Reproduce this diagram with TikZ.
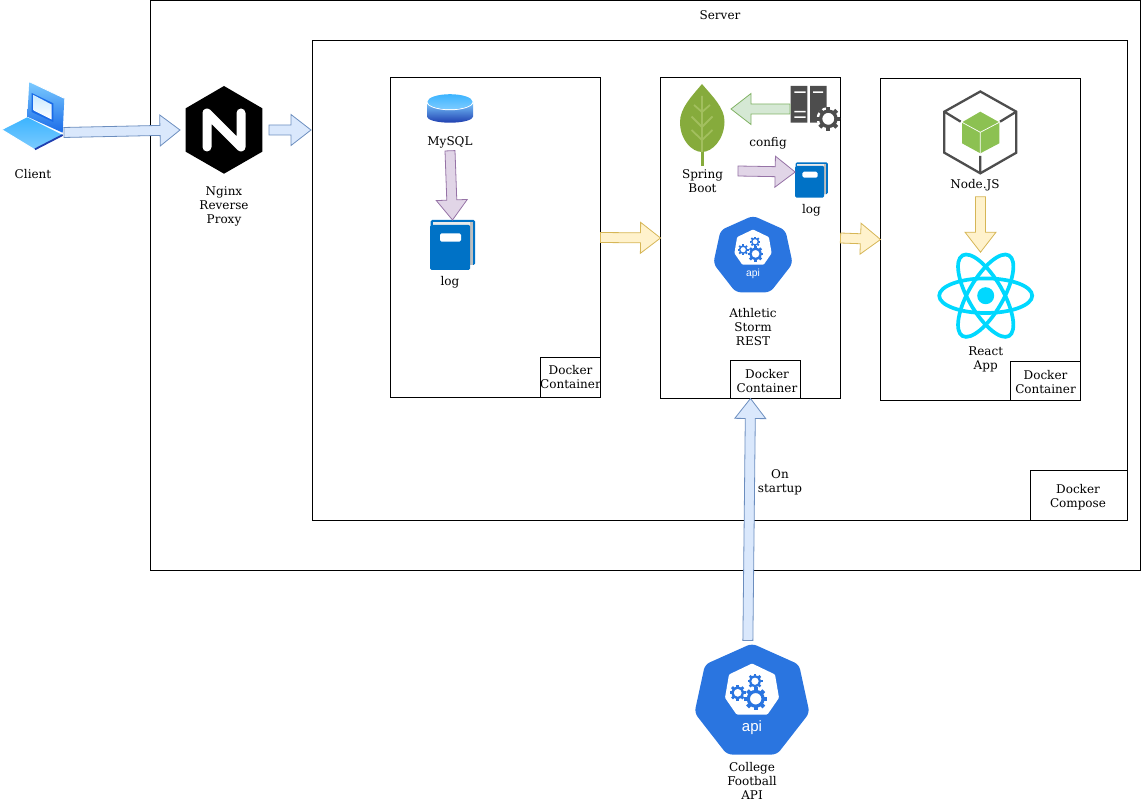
\documentclass[tikz,border=0pt]{standalone}
\usepackage{fontspec}
\setmainfont{DejaVu Serif}
\newfontfamily\apifont{Liberation Sans}
\usetikzlibrary{positioning, calc}

\definecolor{apiblue}{HTML}{2A75E0}
\definecolor{logblue}{HTML}{0072C6}
\definecolor{reactcyan}{HTML}{00D8FF}
\definecolor{darkgrey}{HTML}{4D4D4D}
\definecolor{leafgreen}{HTML}{86AB3C}
\definecolor{veingreen}{HTML}{A2BF5E}
\definecolor{cubegreen}{HTML}{8CC152}
\definecolor{skyblue}{HTML}{3CB4FF}
\definecolor{paleblue}{HTML}{7CCBFF}
\definecolor{deepblue}{HTML}{1F3FB0}
\definecolor{midblue}{HTML}{1A6BE8}

\tikzset{
  box/.style = {draw, outer sep=0pt, inner sep=0pt},
  tagbox/.style = {box, fill=white, anchor=south east},
  txt/.style = {align=center, inner sep=1pt, outer sep=2pt},
  iconbox/.style = {outer sep=0pt, inner sep=0pt},
  flowblue/.style = {fill={rgb,255:red,218;green,232;blue,252}, draw={rgb,255:red,108;green,142;blue,191}, line width=.8pt},
  flowyellow/.style = {fill={rgb,255:red,255;green,242;blue,204}, draw={rgb,255:red,214;green,182;blue,86}, line width=.8pt},
  flowpurple/.style = {fill={rgb,255:red,225;green,213;blue,231}, draw={rgb,255:red,150;green,115;blue,166}, line width=.8pt},
  flowgreen/.style = {fill={rgb,255:red,213;green,232;blue,212}, draw={rgb,255:red,130;green,179;blue,102}, line width=.8pt},
  pics/cog/.style = {code={
    \fill[even odd rule] (0,0) circle (.78) circle (.5);
    \foreach \a in {0,45,...,315} \fill[rotate=\a] (-.17,.7) rectangle (.17,1);
  }},
  pics/logbook/.style = {code={
    \fill[logblue, rounded corners=1.5pt] (-22,-25) rectangle (22.5,20);
    \fill[black!25] (-20,-22.5) rectangle (20,20);
    \fill[black!8] (-20,-22.5) rectangle (17.5,-20);
    \fill[logblue, rounded corners=1.5pt] (-22.5,-20) rectangle (17.5,25);
    \fill[white, rounded corners=1.5pt] (-12.5,-11.7) rectangle (8.5,-3.3);
  }},
  pics/apiicon/.style = {code={
    \fill[apiblue, rounded corners=5pt] (0,-55.5) -- (47,-34.5) -- (57.5,13.8) -- (25,55.5) -- (-25,55.5) -- (-57.5,13.8) -- (-47,-34.5) -- cycle;
    \fill[white, rounded corners=1pt] (0,-35.5) -- (23,-24.5) -- (27,-1.2) -- (15.5,15.5) -- (-15.5,15.5) -- (-27,-1.2) -- (-23,-24.5) -- cycle;
    \pic[color=apiblue, scale=8] at (-14.3,-6.2) {cog};
    \pic[color=apiblue, scale=7.5] at (3,-17.8) {cog};
    \pic[color=apiblue, scale=11.5] at (3.7,-.2) {cog};
    \node[text=white, inner sep=0pt, font=\apifont\fontsize{15}{15}\selectfont] (word) at (0,28.8) {api};
  }}
}

\newcommand{\flexarrow}[3]{
  \path #2 coordinate (fa) #3 coordinate (fb);
  \coordinate (fh) at ($(fb)!20pt!(fa)$);
  \draw[#1] ($(fa)!5pt!90:(fb)$) -- ($(fh)!5pt!-90:(fa)$) -- ($(fh)!15.5pt!-90:(fa)$) -- (fb)
    -- ($(fh)!15.5pt!90:(fa)$) -- ($(fh)!5pt!90:(fa)$) -- ($(fa)!5pt!-90:(fb)$) -- cycle;
}

\begin{document}
\begin{tikzpicture}[x=1pt, y=-1pt, line width=1pt, font=\fontsize{12}{14}\selectfont]
\useasboundingbox (0,0) rectangle (1141,802);

\node[box, minimum width=990pt, minimum height=570pt] (server) at (645.5,285.5) {};
\node[txt] (serverl) at (720,15) {Server};
\node[box, minimum width=815pt, minimum height=480pt] (compose) at (720,280.5) {};
\node[tagbox, minimum width=97pt, minimum height=50pt] (composet) at (compose.south east) {};
\node[txt] (composel) at ([xshift=-1pt, yshift=-1.5pt]composet.center) {Docker\\Compose};

\node[box, minimum width=210pt, minimum height=320pt] (c1) at (495.5,237.5) {};
\node[tagbox, minimum width=60pt, minimum height=40pt] (c1t) at (c1.south east) {};
\node[txt] (c1l) at (c1t.center) {Docker\\Container};
\node[box, minimum width=180pt, minimum height=321pt] (c2) at (750.5,238) {};
\node[tagbox, minimum width=70pt, minimum height=38pt] (c2t) at ([xshift=-40pt]c2.south east) {};
\node[txt] (c2l) at ([xshift=1.5pt, yshift=-2pt]c2t.center) {Docker\\Container};
\node[box, minimum width=200pt, minimum height=322pt] (c3) at (980.5,239.5) {};
\node[tagbox, minimum width=70pt, minimum height=39pt] (c3t) at (c3.south east) {};
\node[txt] (c3l) at ([yshift=-1pt]c3t.center) {Docker\\Container};

\node[iconbox, minimum width=62pt, minimum height=68pt] (client) at (33,116) {};
\node[txt, node distance=58.5pt, below of=client] (clientl) {Client};
\shade[top color=paleblue, bottom color=midblue] (29.3,81.7) -- (64.3,98.3) -- (62.7,132.7) -- (27.3,116.7) -- cycle;
\draw[white, line width=.8pt] (27.3,85) -- (29.3,81.7) -- (64.3,98.3);
\fill[midblue] (31.7,93) -- (53.3,103.3) -- (53.3,122) -- (31.7,112) -- cycle;
\shade[top color=white!60!paleblue, bottom color=white] (33.5,95) -- (51.5,104.5) -- (51.5,119.5) -- (33.5,110.5) -- cycle;
\shade[top color=skyblue, bottom color=paleblue] (27.3,117.3) -- (2.3,130) -- (34,149.3) -- (62.7,135) -- cycle;
\draw[white, line width=1pt] (2.3,130) -- (34,149.3);
\draw[deepblue, line width=1.8pt] (35,149.3) -- (62.7,135);

\node[iconbox, minimum width=88pt, minimum height=88pt] (nginx) at (224,130) {};
\node[txt, node distance=76pt, below of=nginx] (nginxl) {Nginx\\Reverse\\Proxy};
\fill (224,86) -- (262.3,108.3) -- (262.3,151.7) -- (224,173.7) -- (185.7,151.7) -- (185.7,108.3) -- cycle;
\draw[white, line width=9pt, line cap=round, line join=round] (207,147) -- (207,113) -- (241,147) -- (241,113);

\node[iconbox, minimum width=46pt, minimum height=30pt] (mysql) at (450,108) {};
\node[txt, node distance=34pt, below of=mysql] (mysqll) {MySQL};
\shade[top color=paleblue, bottom color=deepblue] (427,101.7) -- (427,116.7) arc [start angle=180, end angle=360, x radius=23pt, y radius=6pt] -- (473,101.7) -- cycle;
\draw[white, line width=1pt] (450,101.7) ellipse [x radius=23pt, y radius=8pt];
\shade[top color=skyblue, bottom color=paleblue] (450,101.7) ellipse [x radius=22.5pt, y radius=7.5pt];

\node[iconbox, minimum width=45pt, minimum height=50pt] (log1) at (452.5,245) {};
\node[txt, xshift=-2.5pt, node distance=37pt, below of=log1] (log1l) {log};
\pic (log1i) at (log1.center) {logbook};

\node[iconbox, minimum width=57pt, minimum height=82pt] (spring) at (702.5,125) {};
\node[txt, node distance=56pt, below of=spring] (springl) {Spring\\Boot};
\draw[leafgreen, line width=3pt] (702,150) -- (702,165.7);
\fill[leafgreen] (702,84) .. controls (712,96) and (725,108) .. (724.5,122) .. controls (724,140) and (712,152) .. (702,152) .. controls (692,152) and (680,140) .. (680,122) .. controls (680,108) and (692,96) .. (702,84) -- cycle;
\draw[veingreen, line width=1.8pt] (702,96) -- (702,152) (694,105) -- (702,112) -- (710,105) (691.5,116.5) -- (702,127) -- (712.5,116.5) (691.5,130) -- (702,140) -- (712.5,130);

\node[iconbox, minimum width=50pt, minimum height=46pt] (cfg) at (815,109) {};
\node[txt] (cfgl) at (768,143) {config};
\fill[darkgrey] (790.7,86) rectangle (807.3,122.7) (810,86) rectangle (826.7,122.7);
\fill[white] (794.3,91.3) rectangle (805.7,92.8) (794.3,111) rectangle (805.7,112.5) (794.3,116.3) rectangle (805.7,117.8) (813,91.3) rectangle (823,92.8);
\fill[white] (828.3,118.8) circle (11.8);
\pic[color=darkgrey, scale=12] (cfgi) at (828.3,118.8) {cog};

\node[iconbox, minimum width=32.7pt, minimum height=35.3pt] (log2) at (811.5,180) {};
\node[txt, node distance=30pt, below of=log2] (log2l) {log};
\pic[xscale=.727, yscale=.707] (log2i) at (log2.center) {logbook};
\coordinate (springout) at (738,171);

\node[iconbox, minimum width=80pt, minimum height=77pt] (rest) at (753,254) {};
\node[txt, node distance=73pt, below of=rest] (restl) {Athletic\\Storm\\REST};
\pic[scale=.69, transform shape] (resti) at (rest.center) {apiicon};

\node[iconbox, minimum width=73pt, minimum height=83pt] (nodejs) at (980.5,132) {};
\node[txt, xshift=-5.5pt, node distance=53pt, below of=nodejs] (nodejsl) {Node.JS};
\draw[darkgrey, line width=2.3pt, line join=miter] (980.3,91.5) -- (1016.3,111.7) -- (1016.3,152.7) -- (980.3,173.3) -- (944.3,152.7) -- (944.3,111.7) -- cycle;
\draw[darkgrey, line width=2.3pt] (944.3,111.7) -- (960.7,121.7) (1016.3,111.7) -- (1000,121.7) (980.3,173.3) -- (980.3,156);
\fill[cubegreen] (980.3,111.7) -- (999.3,122.3) -- (999.3,143.3) -- (980.3,153.3) -- (962,143.3) -- (962,122.3) -- cycle;
\draw[white, line width=.7pt] (962,122.3) -- (980.3,132.3) -- (999.3,122.3) (980.3,132.3) -- (980.3,153.3);

\node[iconbox, minimum width=97pt, minimum height=87pt] (react) at (985.7,295.7) {};
\node[txt, node distance=64pt, below of=react] (reactl) {React\\App};
\foreach \r in {0,60,120}
  \draw[reactcyan, line width=3.7pt, rotate around={\r:(react.center)}] (react.center) ellipse [x radius=46.5pt, y radius=17.3pt];
\fill[reactcyan] (react.center) circle (8.5);

\node[iconbox, minimum width=114pt, minimum height=118pt] (cfb) at (752,699.5) {};
\node[txt, node distance=81.5pt, below of=cfb] (cfbl) {College\\Football\\API};
\pic (cfbi) at ([yshift=.5pt]cfb.center) {apiicon};

\node[txt] (startl) at (780,482) {On\\startup};

\flexarrow{flowblue}{(client.-28)}{(nginx.west)}
\flexarrow{flowblue}{([xshift=1pt]nginx.east)}{([xshift=-1.5pt]compose.west |- nginx.east)}
\flexarrow{flowpurple}{(mysqll.south)}{(log1.north)}
\flexarrow{flowyellow}{(c1.east)}{(c2.west)}
\flexarrow{flowyellow}{(c2.east)}{(c3.west)}
\flexarrow{flowgreen}{(cfg.west)}{(spring.east |- cfg.west)}
\flexarrow{flowpurple}{(springout)}{(log2.154)}
\flexarrow{flowyellow}{([yshift=-3pt]nodejs.south |- nodejsl.south)}{(nodejs.south |- react.north)}
\flexarrow{flowblue}{(cfb.94)}{(c2.south)}
\end{tikzpicture}
\end{document}
